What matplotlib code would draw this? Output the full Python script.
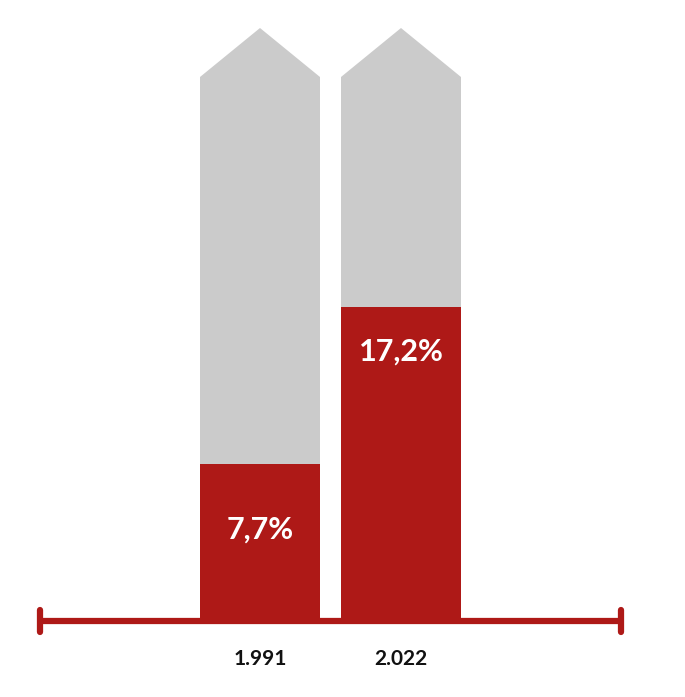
import matplotlib
matplotlib.use("Agg")
import matplotlib.pyplot as plt
from matplotlib.patches import Polygon

# datos (unidades de dibujo ~ pixeles)
years = ["1.991", "2.022"]
labels = ["7,7%", "17,2%"]
fill = [154, 311]        # altura de la parte roja
label_y = [88, 266]      # altura de las etiquetas
shaft = 541              # altura del cuerpo gris
tip = 590                # punta de la flecha
xpos = [260, 401]
width = 120

RED = "#AE1917"
GRAY = "#CBCBCB"

plt.rcParams['font.family'] = ['Lato', 'DejaVu Sans']

fig = plt.figure(figsize=(6.85, 6.97), dpi=100)
ax = fig.add_axes([0, 0, 1, 1])
ax.set_xlim(0, 685)
ax.set_ylim(-79, 618)
ax.axis("off")

for x, h, ly, lab, yr in zip(xpos, fill, label_y, labels, years):
    # cuerpo gris + punta
    ax.bar(x, shaft, width=width, color=GRAY, align="center", zorder=1)
    ax.add_patch(Polygon([(x - width/2, shaft), (x, tip), (x + width/2, shaft)],
                         closed=True, color=GRAY, lw=0, zorder=1))
    # parte roja
    ax.bar(x, h, width=width, color=RED, zorder=2)
    ax.text(x, ly, lab, color="white", fontsize=22, fontweight="bold",
            ha="center", va="center", zorder=3)
    ax.text(x, -41, yr, color="#111111", fontsize=15, fontweight="bold",
            ha="center", va="center")

# eje con topes
ax.plot([40, 621], [-3, -3], color=RED, lw=4.5, solid_capstyle="butt", zorder=4)
for xc in [40, 621]:
    ax.plot([xc, xc], [8, -14], color=RED, lw=4.5, solid_capstyle="round", zorder=4)

fig.savefig("out.png", dpi=100)
